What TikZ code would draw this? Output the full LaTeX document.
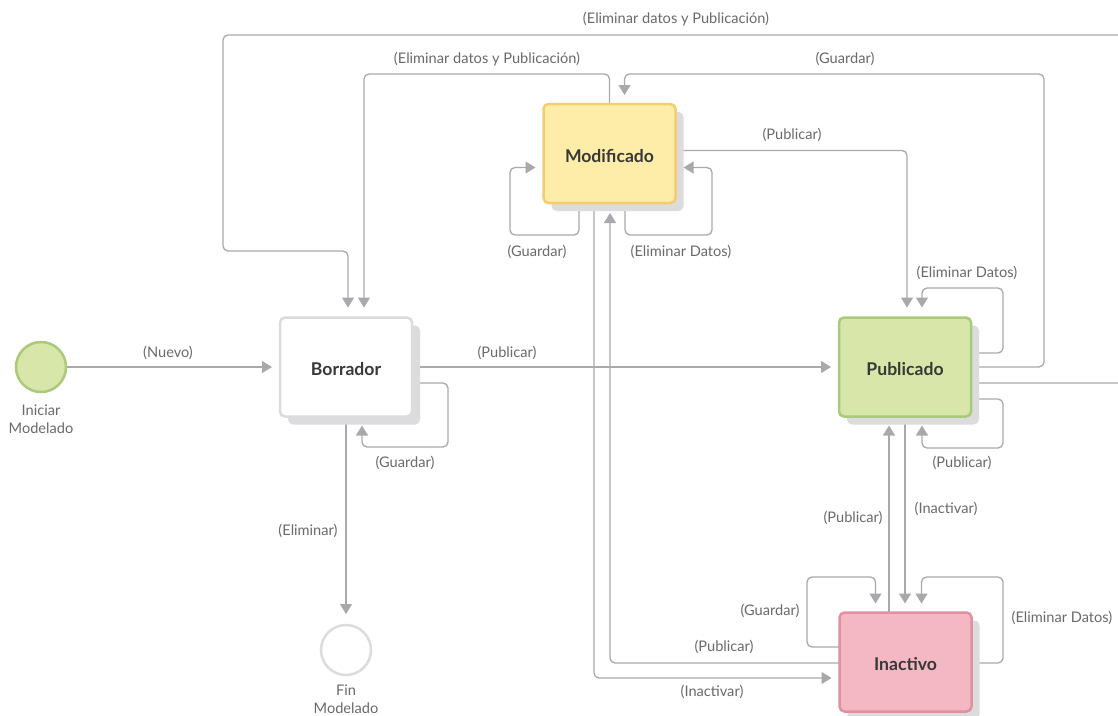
\documentclass[tikz,border=0pt]{standalone}
\usepackage{fontspec}
\setmainfont{Lato}
\usetikzlibrary{arrows.meta,calc,shadows,backgrounds}
\definecolor{edgec}{HTML}{A8A9AD}
\definecolor{labc}{HTML}{6A6A6A}
\definecolor{titlec}{HTML}{383838}
\definecolor{shadowc}{HTML}{DCDCDE}
\definecolor{bordraw}{HTML}{DCDCDE}
\definecolor{modfill}{HTML}{FDEDA9}
\definecolor{moddraw}{HTML}{F5CD6E}
\definecolor{pubfill}{HTML}{D8E6A9}
\definecolor{pubdraw}{HTML}{A9C97B}
\definecolor{inafill}{HTML}{F4B8C4}
\definecolor{inadraw}{HTML}{E0919E}
\begin{document}
\begin{tikzpicture}[x=1pt,y=-1pt,
  statebox/.style={draw, rounded corners=5pt, line width=2.5pt,
    minimum width=132pt, minimum height=99pt, inner sep=0pt, outer sep=0pt,
    text height=17.5pt, text depth=0pt,
    font=\fontsize{17.6}{20}\selectfont\bfseries, text=titlec,
    drop shadow={shadow xshift=8pt, shadow yshift=-8pt, fill=shadowc, opacity=1}},
  eventc/.style={circle, line width=2.5pt, minimum size=50pt, inner sep=0pt, outer sep=0pt},
  conn/.style={draw=edgec, line width=1.3pt, rounded corners=5pt},
  arr/.style={conn, -{Triangle[width=12pt,length=10pt]}},
  lab/.style={font=\fontsize{14.6}{18}\selectfont, text=labc, inner sep=0pt, align=center}]
\useasboundingbox (0,0) rectangle (1118,715);

% nodes
\node[eventc, fill=pubfill, draw=pubdraw] (ini) at (41,367) {};
\node[eventc, fill=white, draw=bordraw] (fin) at (346,650) {};
\node[statebox, fill=white, draw=bordraw] (Bor) at (346,367) {Borrador};
\node[statebox, fill=modfill, draw=moddraw] (Mod) at (609.5,153.5) {Modificado};
\node[statebox, fill=pubfill, draw=pubdraw] (Pub) at (905,367) {Publicado};
\node[statebox, fill=inafill, draw=inadraw] (Ina) at (905.5,662) {Inactivo};

% labels
\node[lab] (lini) at (41,419) {Iniciar\\Modelado};
\node[lab] (lfin) at (346,699) {Fin\\Modelado};
\node[lab] (l1) at (168,353) {(Nuevo)};
\node[lab] (l2) at (507,353) {(Publicar)};
\node[lab] (l3) at (405,463) {(Guardar)};
\node[lab] (l4) at (308,531) {(Eliminar)};
\node[lab] (l5) at (487,59) {(Eliminar datos y Publicación)};
\node[lab] (l6) at (676,19) {(Eliminar datos y Publicación)};
\node[lab] (l7) at (845,59) {(Guardar)};
\node[lab] (l8) at (792,135) {(Publicar)};
\node[lab] (l9) at (967,273) {(Eliminar Datos)};
\node[lab] (l10) at (962,463) {(Publicar)};
\node[lab] (l11) at (537,252) {(Guardar)};
\node[lab] (l12) at (681,252) {(Eliminar Datos)};
\node[lab] (l13) at (724,647) {(Publicar)};
\node[lab] (l14) at (712,692) {(Inactivar)};
\node[lab] (l15) at (853,518) {(Publicar)};
\node[lab] (l16) at (946,509) {(Inactivar)};
\node[lab] (l17) at (770,611) {(Guardar)};
\node[lab] (l18) at (1062,618) {(Eliminar Datos)};

\begin{pgfonlayer}{background}
\fill[white] (0,0) rectangle (1118,715);
\clip (0,0) rectangle (1118,715);
% Iniciar -> Borrador
\draw[arr, shorten >=8pt] (ini.east) -- (Bor.west);
% Borrador -> Publicado
\draw[arr, shorten >=8pt] (Bor.east) -- (Pub.west);
% Borrador self (Guardar)
\draw[arr] ($(Bor.east)+(0,16)$) -- (448,383) -- (448,447) -- (362,447) -- ($(Bor.south)+(16,9)$);
% Borrador -> Fin
\draw[arr, shorten >=11pt] (Bor.south) -- (fin.north);
% Modificado -> Borrador (inner)
\draw[arr] (Mod.north) -- (609.5,74) -- (364,74) -- ($(Bor.north)+(18,-10)$);
% Publicado -> Borrador (outer)
\draw[arr] ($(Pub.east)+(0,16)$) -- (1135,383) -- (1135,35) -- (223,35) -- (223,251) -- (348,251) -- ($(Bor.north)+(2,-10)$);
% Publicado -> Modificado (Guardar)
\draw[arr] (Pub.east) -- (1044,367) -- (1044,74) -- (624.5,74) -- ($(Mod.north)+(15,-9)$);
% Modificado -> Publicado (Publicar)
\draw[arr] ($(Mod.east)+(0,-3)$) -- (907,150.5) -- ($(Pub.north)+(2,-10)$);
% Publicado self (Eliminar Datos)
\draw[arr] ($(Pub.east)+(0,-14)$) -- (1003,353) -- (1003,288) -- (922,288) -- ($(Pub.north)+(17,-10)$);
% Publicado self (Publicar)
\draw[arr] ($(Pub.east)+(0,32)$) -- (1003,399) -- (1003,448) -- (922,448) -- ($(Pub.south)+(17,9)$);
% Modificado self (Guardar)
\draw[arr] ($(Mod.south)+(-30.5,0)$) -- (579,235) -- (510,235) -- (510,167.5) -- ($(Mod.west)+(-8,14)$);
% Modificado self (Eliminar Datos)
\draw[arr] ($(Mod.south)+(15.5,0)$) -- (625,235) -- (712,235) -- (712,167.5) -- ($(Mod.east)+(8,14)$);
% Inactivo -> Modificado (Publicar)
\draw[arr] ($(Ina.west)+(0,1)$) -- (610,663) -- ($(Mod.south)+(0.5,10)$);
% Modificado -> Inactivo (Inactivar)
\draw[arr] ($(Mod.south)+(-15.5,0)$) -- (594,678) -- ($(Ina.west)+(-8,16)$);
% Inactivo -> Publicado (Publicar)
\draw[arr] ($(Ina.north)+(-16.5,0)$) -- ($(Pub.south)+(-16,9)$);
% Publicado -> Inactivo (Inactivar)
\draw[arr] (Pub.south) -- ($(Ina.north)+(-0.5,-9)$);
% Inactivo self (Guardar)
\draw[arr] ($(Ina.west)+(0,-15)$) -- (807,647) -- (807,577) -- (875.5,577) -- ($(Ina.north)+(-30,-9)$);
% Inactivo self (Eliminar Datos)
\draw[arr] ($(Ina.east)+(0,1)$) -- (1003,663) -- (1003,577) -- (921.5,577) -- ($(Ina.north)+(16,-9)$);
\end{pgfonlayer}
\end{tikzpicture}
\end{document}
